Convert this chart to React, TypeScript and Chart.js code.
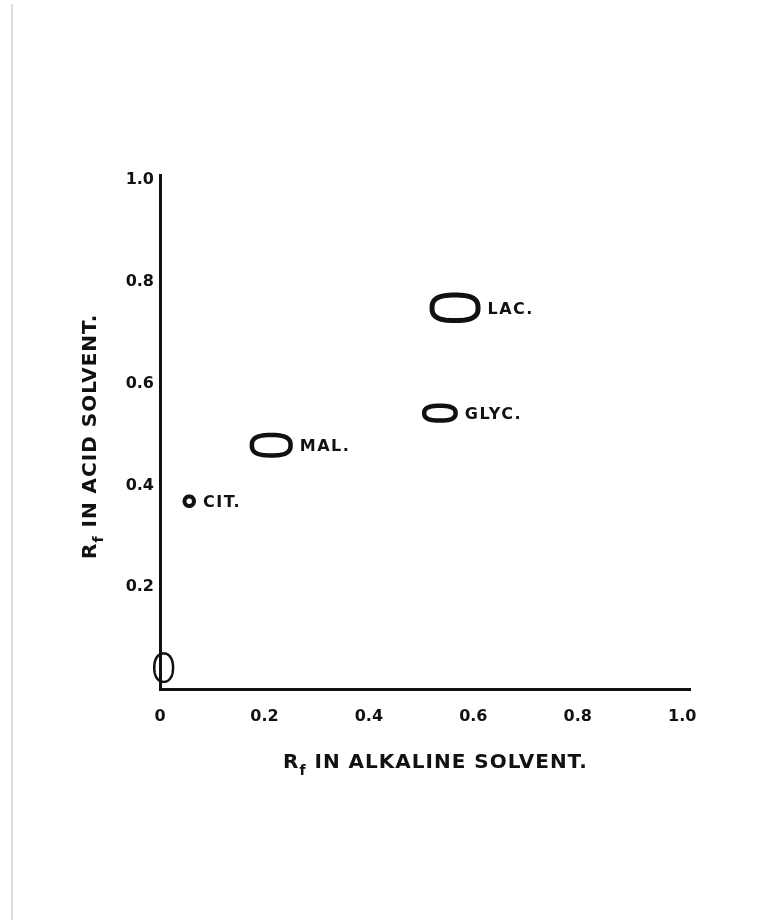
import React, { useEffect, useRef } from "react";
import { Chart, registerables } from "chart.js";

Chart.register(...registerables);

// ---- data ----
const spotNames = ["LAC.", "GLYC.", "MAL.", "CIT.", ""];
const rfAlkaline = [0.565, 0.536, 0.213, 0.056, 0.007];
const rfAcid = [0.749, 0.542, 0.479, 0.369, 0.042];
const spotWidthRf = [0.088, 0.06, 0.074, 0.018, 0.036];
const spotHeightRf = [0.05, 0.029, 0.04, 0.019, 0.056];
const xTickValues = [0, 0.2, 0.4, 0.6, 0.8, 1.0];
const xTickLabels = ["0", "0.2", "0.4", "0.6", "0.8", "1.0"];
const yTickValues = [0.2, 0.4, 0.6, 0.8, 1.0];
const yTickLabels = ["0.2", "0.4", "0.6", "0.8", "1.0"];
const xTitleRest = " IN ALKALINE SOLVENT.";
const yTitleRest = " IN ACID SOLVENT.";

// ---- styles ----
const INK = "#111111";
const FONT = "'DejaVu Sans', 'Liberation Sans', sans-serif";
const spotStroke = [5, 4.5, 4.5, 4, 2.5];
const spotShapeExp = [2.7, 2.6, 2.7, 2, 2.2]; // superellipse exponents for hand-drawn outlines

function drawRfTitle(ctx: CanvasRenderingContext2D, rest: string) {
  ctx.fillStyle = INK;
  ctx.textAlign = "left";
  ctx.textBaseline = "alphabetic";
  ctx.font = `bold 20px ${FONT}`;
  (ctx as any).letterSpacing = "1px";
  ctx.fillText("R", 0, 0);
  let x = ctx.measureText("R").width;
  ctx.font = `bold 14px ${FONT}`;
  (ctx as any).letterSpacing = "0px";
  ctx.fillText("f", x, 7);
  x += ctx.measureText("f").width + 1;
  ctx.font = `bold 20px ${FONT}`;
  (ctx as any).letterSpacing = "1px";
  ctx.fillText(rest, x, 0);
}

function superEllipsePath(ctx: CanvasRenderingContext2D, cx: number, cy: number, a: number, b: number, n: number) {
  ctx.beginPath();
  const steps = 96;
  for (let k = 0; k <= steps; k++) {
    const t = (k / steps) * Math.PI * 2;
    const c = Math.cos(t);
    const s = Math.sin(t);
    const x = cx + a * Math.sign(c) * Math.pow(Math.abs(c), 2 / n);
    const y = cy + b * Math.sign(s) * Math.pow(Math.abs(s), 2 / n);
    if (k === 0) ctx.moveTo(x, y);
    else ctx.lineTo(x, y);
  }
  ctx.closePath();
}

const spotsPlugin = {
  id: "spots",
  afterDatasetsDraw(chart: any) {
    const ctx: CanvasRenderingContext2D = chart.ctx;
    const xs = chart.scales.x;
    const ys = chart.scales.y;
    const meta = chart.getDatasetMeta(0);
    ctx.save();
    meta.data.forEach((pt: any, i: number) => {
      const cx = pt.x;
      const cy = pt.y;
      const w = Math.abs(xs.getPixelForValue(spotWidthRf[i]) - xs.getPixelForValue(0));
      const h = Math.abs(ys.getPixelForValue(spotHeightRf[i]) - ys.getPixelForValue(0));
      superEllipsePath(ctx, cx, cy, w / 2, h / 2, spotShapeExp[i]);
      ctx.lineWidth = spotStroke[i];
      ctx.lineJoin = "round";
      ctx.strokeStyle = INK;
      ctx.stroke();
      if (spotNames[i]) {
        ctx.font = `bold 16px ${FONT}`;
        (ctx as any).letterSpacing = "1.5px";
        ctx.fillStyle = INK;
        ctx.textAlign = "left";
        ctx.textBaseline = "middle";
        ctx.fillText(spotNames[i], cx + w / 2 + spotStroke[i] / 2 + 7, cy + 2);
      }
    });
    ctx.restore();
  },
};

const titlesPlugin = {
  id: "rfTitles",
  afterDraw(chart: any) {
    const ctx: CanvasRenderingContext2D = chart.ctx;
    const area = chart.chartArea;
    ctx.save();
    ctx.translate(area.left + 123, area.bottom + 79);
    drawRfTitle(ctx, xTitleRest);
    ctx.restore();
    ctx.save();
    ctx.translate(area.left - 64, area.top + 384);
    ctx.rotate(-Math.PI / 2);
    drawRfTitle(ctx, yTitleRest);
    ctx.restore();
  },
};

export default function App() {
  const ref = useRef<HTMLCanvasElement | null>(null);

  useEffect(() => {
    if (!ref.current) return;
    const chart = new Chart(ref.current, {
      type: "scatter",
      data: {
        datasets: [
          {
            data: rfAlkaline.map((x, i) => ({ x, y: rfAcid[i] })),
            pointRadius: 0,
            pointHoverRadius: 0,
            showLine: false,
          },
        ],
      },
      options: {
        responsive: false,
        animation: false,
        events: [],
        layout: { padding: { top: 175, right: 92, left: 0, bottom: 0 } },
        plugins: { legend: { display: false }, tooltip: { enabled: false } },
        scales: {
          x: {
            type: "linear",
            min: 0,
            max: 1.015,
            afterBuildTicks: (s: any) => {
              s.ticks = xTickValues.map((v) => ({ value: v }));
            },
            afterFit: (s: any) => {
              s.height = 924 - 689;
            },
            grid: { display: false, drawTicks: false },
            border: { display: true, color: INK, width: 3 },
            ticks: {
              padding: 18,
              color: INK,
              maxRotation: 0,
              autoSkip: false,
              font: { family: FONT, size: 16, weight: "bold" },
              callback: (_v: any, i: number) => xTickLabels[i],
            },
          },
          y: {
            type: "linear",
            min: 0,
            max: 1.01,
            afterBuildTicks: (s: any) => {
              s.ticks = yTickValues.map((v) => ({ value: v }));
            },
            afterFit: (s: any) => {
              s.width = 160;
            },
            grid: { display: false, drawTicks: false },
            border: { display: true, color: INK, width: 3 },
            ticks: {
              padding: 6,
              color: INK,
              autoSkip: false,
              font: { family: FONT, size: 16, weight: "bold" },
              callback: (_v: any, i: number) => yTickLabels[i],
            },
          },
        },
      },
      plugins: [spotsPlugin, titlesPlugin],
    } as any);
    return () => chart.destroy();
  }, []);

  return (
    <div
      style={{
        position: "absolute",
        left: 0,
        top: 0,
        width: 782,
        height: 924,
        background: "#ffffff",
        overflow: "hidden",
      }}
    >
      <div
        style={{
          position: "absolute",
          left: 11,
          top: 4,
          width: 2,
          height: 916,
          background: "#dcdcdc",
        }}
      />
      <canvas
        ref={ref}
        width={782}
        height={924}
        style={{ position: "absolute", left: 0, top: 0, display: "block" }}
      />
    </div>
  );
}
